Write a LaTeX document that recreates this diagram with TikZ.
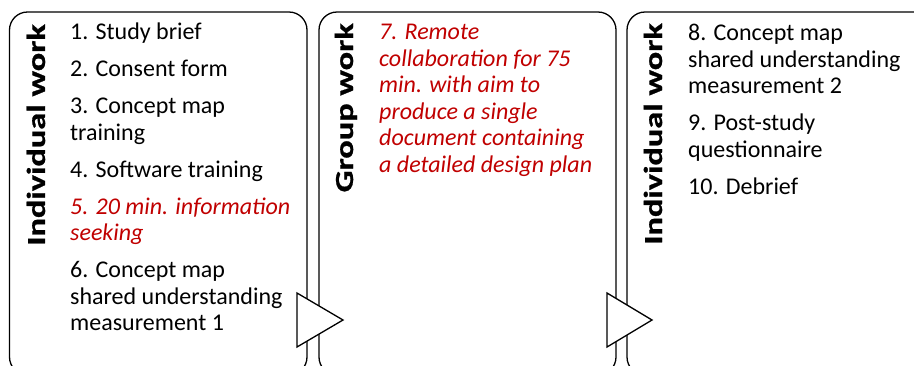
\documentclass[tikz,border=0pt]{standalone}
\usepackage{fontspec}
\setmainfont{Carlito}
\newfontfamily\phasefont[FakeBold=0.8]{Carlito Bold}
\definecolor{stepred}{HTML}{C00000}
\newcommand{\phasetext}[1]{\scalebox{1.32}[1]{#1}}
\begin{document}
\begin{tikzpicture}[x=1pt,y=-1pt,
  panel/.style={draw=black, line width=1.3pt, rounded corners=18pt},
  phase/.style={font=\fontsize{26}{30}\phasefont, rotate=90, anchor=base east, inner sep=0pt},
  steps/.style={font=\fontsize{24}{26.5}\selectfont, align=left, anchor=north west, inner sep=0pt},
  flow/.style={draw=black, line width=1.3pt, fill=white, line join=miter}]
\clip (0,0) rectangle (914,365);
% three stage panels, open below the page edge
\draw[panel] (9.5,12) rectangle (307,375);
\draw[panel] (319,12) rectangle (616,375);
\draw[panel] (627,12) rectangle (940,375);
% stage titles
\node[phase] (t1) at (45,24) {\phasetext{Individual work}};
\node[phase] (t2) at (353,23) {\phasetext{Group work}};
\node[phase] (t3) at (662,23) {\phasetext{Individual work}};
% step lists
\node[steps] (s1) at (70,23) {1. Study brief\\[10.5pt]
2. Consent form\\[10.5pt]
3. Concept map\\training\\[10.5pt]
4. Software training\\[10.5pt]
{\color{stepred}\itshape 5. 20 min. information}\\{\color{stepred}\itshape seeking}\\[10.5pt]
6. Concept map\\shared understanding\\measurement 1};
\node[steps, text=stepred, font=\fontsize{24}{26.5}\selectfont\itshape] (s2) at (379,24) {7. Remote\\collaboration for 75\\min. with aim to\\produce a single\\document containing\\a detailed design plan};
\node[steps] (s3) at (688,24) {8. Concept map\\shared understanding\\measurement 2\\[10.5pt]
9. Post-study\\questionnaire\\[10.5pt]
10. Debrief};
% arrows between stages
\draw[flow] (297,293) -- (343,320) -- (297,347) -- cycle;
\draw[flow] (607,293) -- (652,320) -- (607,347) -- cycle;
\end{tikzpicture}
\end{document}
